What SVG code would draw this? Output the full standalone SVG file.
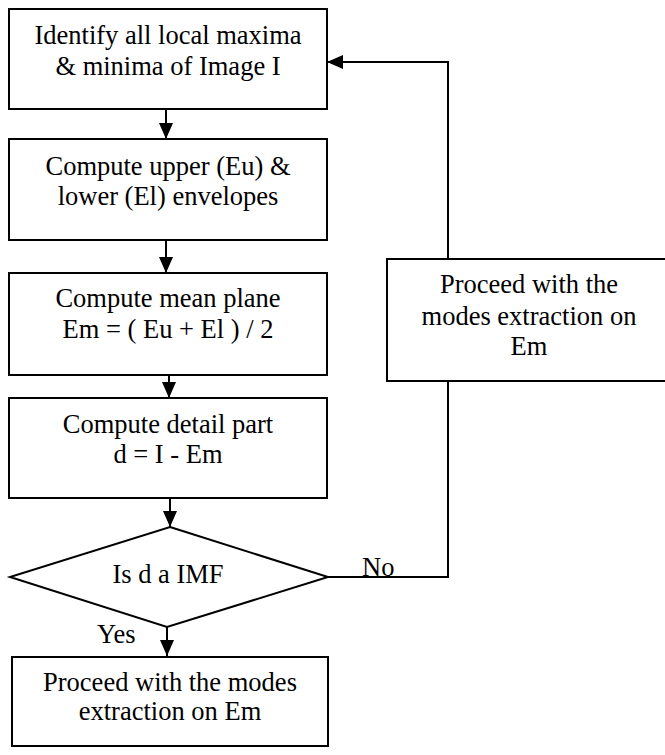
<svg xmlns="http://www.w3.org/2000/svg" width="665" height="755" viewBox="0 0 665 755">
  <style>
    .box { fill: #fff; stroke: #000; stroke-width: 2; }
    .line { fill: none; stroke: #000; stroke-width: 2; }
    text { font-family: "Liberation Serif", "Times New Roman", serif; font-size: 26.5px; fill: #000; }
    .c { text-anchor: middle; }
  </style>
  <defs>
    <marker id="arrow" viewBox="0 0 16 14" refX="16" refY="7" markerWidth="16" markerHeight="14" markerUnits="userSpaceOnUse" orient="auto">
      <path d="M0,0 L16,7 L0,14 Z" fill="#000"/>
    </marker>
  </defs>

  <rect width="665" height="755" fill="#fff"/>

  <!-- connectors -->
  <g id="connectors">
    <line class="line" x1="166" y1="109" x2="166" y2="139" marker-end="url(#arrow)"/>
    <line class="line" x1="166" y1="240" x2="166" y2="273" marker-end="url(#arrow)"/>
    <line class="line" x1="169" y1="375" x2="169" y2="398" marker-end="url(#arrow)"/>
    <line class="line" x1="170" y1="498" x2="170" y2="527" marker-end="url(#arrow)"/>
    <line class="line" x1="167" y1="627" x2="167" y2="656" marker-end="url(#arrow)"/>
    <polyline class="line" points="328,577 448,577 448,381"/>
    <polyline class="line" points="448,259 448,62 327,62" marker-end="url(#arrow)"/>
    <text x="362" y="576">No</text>
    <text x="97" y="643">Yes</text>
  </g>

  <!-- process steps -->
  <g id="identify-extrema">
    <rect class="box" x="9" y="9" width="318" height="100"/>
    <text class="c" x="168" y="44">Identify all local maxima</text>
    <text class="c" x="168" y="75">&amp; minima of Image I</text>
  </g>

  <g id="envelopes">
    <rect class="box" x="9" y="139" width="318" height="101"/>
    <text class="c" x="168" y="175">Compute upper (Eu) &amp;</text>
    <text class="c" x="168" y="205">lower (El) envelopes</text>
  </g>

  <g id="mean-plane">
    <rect class="box" x="9" y="273" width="318" height="102"/>
    <text class="c" x="168" y="307">Compute mean plane</text>
    <text class="c" x="168" y="338">Em = ( Eu + El ) / 2</text>
  </g>

  <g id="detail-part">
    <rect class="box" x="9" y="398" width="318" height="100"/>
    <text class="c" x="168" y="433">Compute detail part</text>
    <text class="c" x="168" y="463">d = I - Em</text>
  </g>

  <g id="imf-check">
    <polygon class="box" points="170,527 328,577 167,627 10,577"/>
    <text class="c" x="168" y="583">Is d a IMF</text>
  </g>

  <g id="extract-final">
    <rect class="box" x="12" y="657" width="316" height="89"/>
    <text class="c" x="170" y="691">Proceed with the modes</text>
    <text class="c" x="170" y="720">extraction on Em</text>
  </g>

  <g id="extract-loop">
    <rect class="box" x="387" y="259" width="285" height="122"/>
    <text class="c" x="529" y="293">Proceed with the</text>
    <text class="c" x="529" y="325">modes extraction on</text>
    <text class="c" x="529" y="355">Em</text>
  </g>
</svg>
